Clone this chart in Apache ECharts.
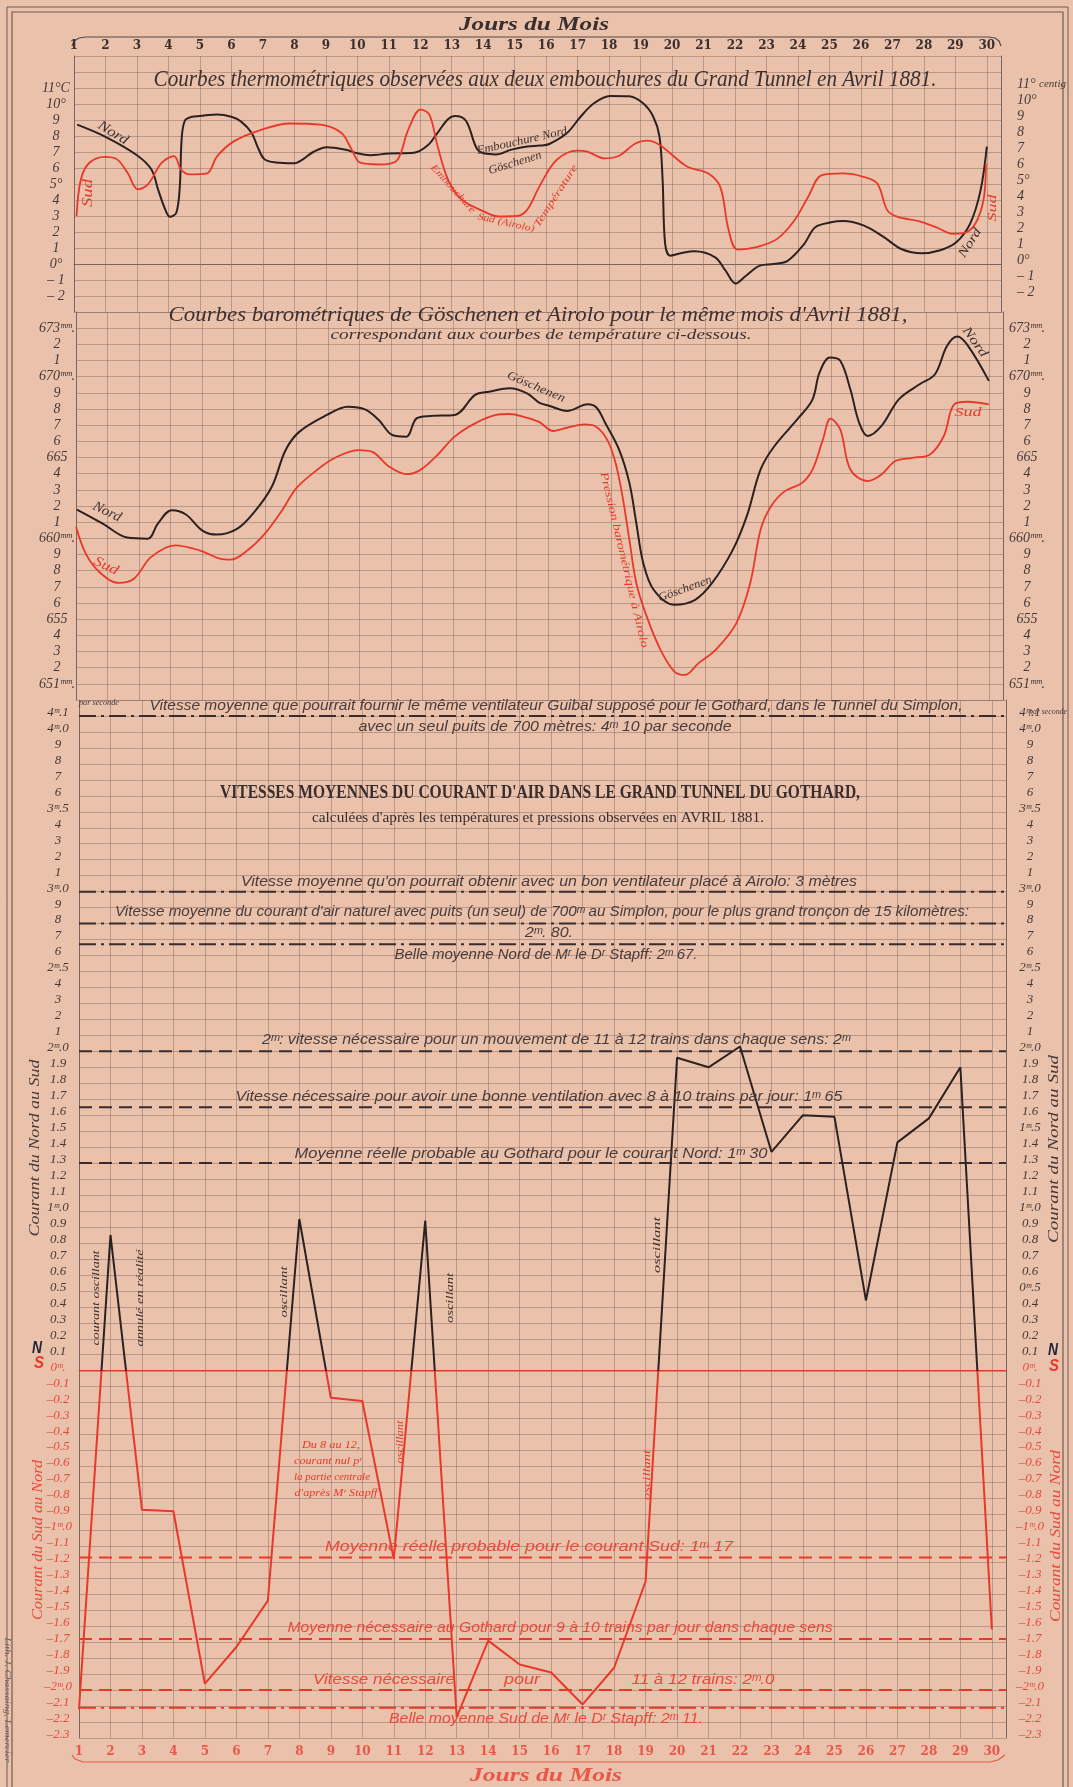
<!DOCTYPE html>
<html><head><meta charset="utf-8">
<script src="https://cdn.jsdelivr.net/npm/echarts/dist/echarts.min.js"></script>
<style>html,body{margin:0;padding:0;background:#eac2ab;}#c{width:1073px;height:1787px;}</style>
</head><body><div id="c"></div>
<script>
// ---------------- DATA ----------------
const days = [1,2,3,4,5,6,7,8,9,10,11,12,13,14,15,16,17,18,19,20,21,22,23,24,25,26,27,28,29,30];
const dayLabels = days.map(String);

// Température embouchure Nord (Göschenen), °C  [jour, valeur]
const tempNord = [[1.1,8.71],[2,7.95],[3,6.8],[3.46,5.9],[3.68,4.6],[3.9,3.4],[4.05,2.95],[4.25,3.2],[4.36,4.8],[4.42,7.8],[4.52,8.95],[4.75,9.2],[5.0,9.25],[5.55,9.35],[6.0,9.2],[6.31,8.9],[6.64,8.2],[6.86,7.2],[7.05,6.55],[7.4,6.35],[8.0,6.3],[8.28,6.55],[8.6,7.0],[9.03,7.3],[9.6,7.15],[10.04,6.9],[10.4,6.8],[11.0,6.9],[11.8,6.95],[12.23,7.4],[12.55,8.2],[12.88,9.05],[13.1,9.25],[13.45,8.95],[13.8,7.2],[14.05,6.9],[14.4,6.85],[14.9,7.15],[15.4,7.35],[15.8,7.4],[16.1,7.5],[16.66,8.18],[17.1,9.22],[17.53,10.06],[18.03,10.5],[18.63,10.48],[19.07,10.06],[19.4,9.22],[19.6,7.97],[19.7,5.24],[19.78,1.26],[19.94,0.52],[20.27,0.67],[20.71,0.8],[21.37,0.42],[21.7,-0.42],[22.02,-1.22],[22.35,-0.73],[22.79,-0.1],[23.23,0],[23.67,0.2],[24.2,1.26],[24.55,2.3],[25.09,2.62],[25.42,2.68],[26.08,2.41],[26.73,1.68],[27.28,0.94],[27.94,0.67],[28.49,0.84],[29.03,1.36],[29.47,2.52],[29.8,4.6],[30,7.34]];
// Température embouchure Sud (Airolo), °C
const tempSud = [[1.08,3.0],[1.22,5.3],[1.49,6.33],[1.99,6.7],[2.37,6.54],[2.7,5.7],[3.03,4.67],[3.35,4.98],[3.79,6.33],[4.18,6.74],[4.4,5.9],[4.67,5.6],[5.22,5.66],[5.55,6.74],[6.09,7.68],[6.97,8.4],[7.85,8.78],[8.83,8.71],[9.49,8.2],[9.82,7.16],[10.09,6.33],[10.69,6.22],[11.24,6.43],[11.62,8.4],[12.01,9.65],[12.29,9.34],[12.55,7.37],[12.88,5.29],[13.3,4.05],[13.98,3.32],[14.5,2.97],[15.07,3.0],[15.4,3.4],[15.8,4.9],[16.33,6.5],[16.99,7.09],[17.31,7.02],[17.86,6.6],[18.3,6.75],[18.85,7.55],[19.23,7.71],[19.61,7.44],[19.94,6.92],[20.49,6.08],[21.15,5.66],[21.53,4.82],[21.8,2.1],[22.08,0.9],[22.68,1.05],[23.34,1.57],[23.89,2.73],[24.32,4.19],[24.76,5.56],[25.42,5.66],[26.08,5.45],[26.52,5.03],[26.84,3.35],[27.17,2.94],[27.83,2.68],[28.38,2.31],[28.92,1.89],[29.36,1.99],[29.69,2.73],[29.91,4.19],[29.97,6.29]];
// Baromètre Göschenen (Nord), mm
const baroNord = [[1.03,661.78],[1.85,660.91],[2.62,660.05],[3.28,659.98],[3.6,660.91],[4.04,661.74],[4.48,661.49],[5.03,660.46],[5.47,660.23],[6.13,660.6],[6.67,661.64],[7.22,663.19],[7.66,665.46],[8.1,666.6],[8.97,667.63],[9.63,668.14],[10.18,667.98],[10.62,667.32],[11.05,666.39],[11.49,666.29],[11.82,667.42],[12.26,667.57],[13.03,667.63],[13.68,668.87],[14.12,669.07],[14.78,669.28],[15.33,668.97],[15.71,668.4],[16.05,668.19],[16.6,667.88],[17.26,668.29],[17.54,668.08],[17.81,667.15],[18.25,665.5],[18.58,663.43],[18.8,660.95],[19.02,658.48],[19.35,656.82],[20.01,655.89],[20.67,656.2],[21.21,657.24],[21.87,659.3],[22.31,661.37],[22.75,664.26],[23.19,665.71],[23.96,667.46],[24.4,668.6],[24.62,670.25],[24.95,671.18],[25.28,670.98],[25.6,669.22],[25.88,667.15],[26.15,666.33],[26.59,666.95],[27.14,668.6],[27.8,669.53],[28.29,670.15],[28.67,671.9],[29.0,672.48],[29.34,671.9],[30.0,669.74]];
// Baromètre Airolo (Sud), mm
const baroSud = [[1.0,660.71],[1.31,659.05],[1.74,657.92],[2.35,657.24],[2.84,657.5],[3.39,658.85],[4.15,659.57],[4.92,659.26],[5.58,658.74],[5.91,658.68],[6.45,659.26],[7.0,660.29],[7.55,661.74],[7.99,663.08],[8.65,664.22],[9.19,664.94],[9.96,665.46],[10.4,665.36],[10.95,664.43],[11.49,663.97],[11.93,664.22],[12.48,665.15],[13.03,666.29],[13.68,667.11],[14.34,667.63],[14.78,667.69],[15.22,667.52],[15.71,667.2],[16.16,666.64],[16.6,666.84],[17.15,667.05],[17.48,666.95],[17.87,666.12],[18.14,664.67],[18.36,662.61],[18.58,659.92],[18.8,657.24],[19.13,655.17],[19.57,653.1],[20.01,651.76],[20.34,651.55],[20.78,652.28],[21.32,653.1],[21.98,654.76],[22.42,657.24],[22.75,660.54],[23.08,661.99],[23.52,662.92],[24.07,663.43],[24.4,664.26],[24.73,666.12],[24.97,667.4],[25.28,666.74],[25.6,664.26],[26.15,663.54],[26.59,663.95],[27.03,664.78],[27.58,664.98],[28.13,665.19],[28.57,666.33],[28.9,668.29],[29.34,668.45],[30.0,668.29]];
// Vitesse moyenne journalière du courant d'air (m/s ; + Nord→Sud, − Sud→Nord)
const vitesse = [-2.12,0.85,-0.87,-0.88,-1.96,-1.73,-1.44,0.95,-0.17,-0.19,-1.18,0.94,-2.17,-1.69,-1.84,-1.89,-2.09,-1.86,-1.32,1.96,1.90,2.03,1.37,1.60,1.59,0.44,1.43,1.58,1.90,-1.62];

// Lignes de référence (m/s)
const refValues = [4.1, 3.0, 2.8, 2.67, 2.0, 1.65, 1.30, 0, -1.17, -1.68, -2.0, -2.11];
const refKinds  = ['dashdot','dashdot','dashdot','dashdot','dash','dash','dash','solid','dash','dash','dash','dashdot'];

// Tick labels
const tempLabelsLeft  = ['', '', '11°C', '10°', '9', '8', '7', '6', '5°', '4', '3', '2', '1', '0°', '– 1', '– 2', ''];   // 13 → -3
const tempLabelsRight = ['', '', '{a|11°} {b|centig}', '10°', '9', '8', '7', '6', '5°', '4', '3', '2', '1', '0°', '– 1', '– 2', ''];
const baroLabels = ['', '673ᵐᵐ.', '2', '1', '670ᵐᵐ.', '9', '8', '7', '6', '665', '4', '3', '2', '1', '660ᵐᵐ.', '9', '8', '7', '6', '655', '4', '3', '2', '651ᵐᵐ.', ''];   // 674 → 650
const velLabelsLeft = ['', '4ᵐ.1', '4ᵐ.0', '9', '8', '7', '6', '3ᵐ.5', '4', '3', '2', '1', '3ᵐ.0', '9', '8', '7', '6', '2ᵐ.5', '4', '3', '2', '1', '2ᵐ.0',
  '1.9', '1.8', '1.7', '1.6', '1.5', '1.4', '1.3', '1.2', '1.1', '1ᵐ.0', '0.9', '0.8', '0.7', '0.6', '0.5', '0.4', '0.3', '0.2', '0.1', '0ᵐ.',
  '–0.1', '–0.2', '–0.3', '–0.4', '–0.5', '–0.6', '–0.7', '–0.8', '–0.9', '–1ᵐ.0', '–1.1', '–1.2', '–1.3', '–1.4', '–1.5', '–1.6', '–1.7', '–1.8', '–1.9', '–2ᵐ.0', '–2.1', '–2.2', '–2.3'];  // 4.2 → -2.3
const velLabelsRight = velLabelsLeft.map((s, i) => i === 27 ? '1ᵐ.5' : (i === 37 ? '0ᵐ.5' : s));

// ---------------- STYLE ----------------
const INK = '#473838', BLACK = '#2b2121', RED = '#e8382a', RED_T = '#e8493c', GRIDC = 'rgba(118,92,86,0.42)', AXC = '#7a6560';
const SERIF = '"Liberation Serif", "DejaVu Serif", serif';
const SANS = '"Liberation Sans", "DejaVu Sans", sans-serif';
const XMAX = 30.45;

function xAxisCfg(grid, pos, showLabel, color) {
  return {
    type: 'value', gridIndex: grid, min: 1, max: XMAX, interval: 1, position: pos,
    axisLine: { show: showLabel, lineStyle: { color: AXC, width: 1 } },
    axisTick: { show: false },
    splitLine: { show: true, lineStyle: { color: GRIDC, width: 1 } },
    axisLabel: {
      show: showLabel, margin: pos === 'top' ? 4 : 8,
      fontFamily: '"DejaVu Serif", serif', fontWeight: 'bold', fontSize: 12, color: color,
      formatter: v => Number.isInteger(v) ? dayLabels[v - 1] : ''
    }
  };
}
function yAxisCfg(grid, pos, min, max, interval, fmt, margin, align, size, rich) {
  return {
    type: 'value', gridIndex: grid, min, max, interval, position: pos,
    axisLine: { show: true, lineStyle: { color: AXC, width: 1 } },
    axisTick: { show: false },
    splitLine: { show: pos === 'left', lineStyle: { color: GRIDC, width: 1 } },
    axisLabel: { show: true, formatter: fmt, margin, align, fontFamily: SERIF, fontStyle: 'italic', fontSize: size, color: INK,
      padding: [0, 0, 7, 0], rich: rich, showMinLabel: true, showMaxLabel: true, hideOverlap: false }
  };
}
const lblStyle = (c, s) => ({ color: c, fontFamily: SERIF, fontStyle: 'italic', fontSize: s });
const velRich = { k: lblStyle(INK, 13), r: lblStyle(RED_T, 13) };
const tempRich = { a: lblStyle(INK, 14), b: lblStyle(INK, 11) };
function velFmt(arr) {
  return v => { const i = Math.round((4.2 - v) * 10); const s = arr[i] || ''; if (!s) return ''; return (i >= 42 ? '{r|' : '{k|') + s + '}'; };
}

const dashStyle = { dashdot: [17, 5, 3, 5], dash: [13, 7], solid: 'solid' };
const refSeries = refValues.map((v, i) => ({
  type: 'line', xAxisIndex: 2, yAxisIndex: 4, silent: true, symbol: 'none', z: 3,
  data: [[1, v], [XMAX, v]],
  lineStyle: { color: v > 0 ? '#3a2c2c' : RED, width: v === 0 ? 1.6 : 2, type: dashStyle[refKinds[i]] }
}));

const option = {
  backgroundColor: '#eac2ab',
  animation: false,
  grid: [
    { left: 74, top: 56, width: 927, height: 256 },
    { left: 76, top: 312, width: 927, height: 388 },
    { left: 79, top: 700, width: 927, height: 1038 }
  ],
  xAxis: [xAxisCfg(0, 'top', true, '#3b2e2e'), xAxisCfg(1, 'bottom', false, INK), xAxisCfg(2, 'bottom', true, '#e8574a')],
  yAxis: [
    yAxisCfg(0, 'left', -3, 13, 1, v => tempLabelsLeft[Math.round(13 - v)] || '', 18, 'center', 14),
    yAxisCfg(0, 'right', -3, 13, 1, v => tempLabelsRight[Math.round(13 - v)] || '', 16, 'left', 14, tempRich),
    yAxisCfg(1, 'left', 650, 674, 1, v => baroLabels[Math.round(674 - v)] || '', 19, 'center', 14),
    yAxisCfg(1, 'right', 650, 674, 1, v => baroLabels[Math.round(674 - v)] || '', 24, 'center', 14),
    yAxisCfg(2, 'left', -2.3, 4.2, 0.1, velFmt(velLabelsLeft), 21, 'center', 13, velRich),
    yAxisCfg(2, 'right', -2.3, 4.2, 0.1, velFmt(velLabelsRight), 24, 'center', 13, velRich)
  ],
  series: [
    { name: 'Embouchure Nord (Göschenen)', type: 'line', xAxisIndex: 0, yAxisIndex: 0, data: tempNord, smooth: 0.35, symbol: 'none', lineStyle: { color: BLACK, width: 2 }, z: 5 },
    { name: 'Embouchure Sud (Airolo)', type: 'line', xAxisIndex: 0, yAxisIndex: 0, data: tempSud, smooth: 0.35, symbol: 'none', lineStyle: { color: RED, width: 1.8 }, z: 5 },
    { name: 'Göschenen', type: 'line', xAxisIndex: 1, yAxisIndex: 2, data: baroNord, smooth: 0.35, symbol: 'none', lineStyle: { color: BLACK, width: 2 }, z: 5 },
    { name: 'Airolo', type: 'line', xAxisIndex: 1, yAxisIndex: 2, data: baroSud, smooth: 0.35, symbol: 'none', lineStyle: { color: RED, width: 1.8 }, z: 5 },
    { name: 'Vitesse', type: 'line', xAxisIndex: 2, yAxisIndex: 4, data: days.map((d, i) => [d, vitesse[i]]), symbol: 'none', lineStyle: { color: BLACK, width: 2 }, z: 6 }
  ].concat(refSeries)
};

const chart = echarts.init(document.getElementById('c'), null, { renderer: 'canvas' });
chart.setOption(option);

// colour the velocity line black above 0 (Nord→Sud) and red below (Sud→Nord), split at the axis' own 0
const yTop = chart.convertToPixel({ yAxisIndex: 4 }, 4.2);
const yBot = chart.convertToPixel({ yAxisIndex: 4 }, -2.3);
const yZero = chart.convertToPixel({ yAxisIndex: 4 }, 0);
const f = (yZero - yTop) / (yBot - yTop);
const velGrad = new echarts.graphic.LinearGradient(0, yTop, 0, yBot,
  [{ offset: 0, color: BLACK }, { offset: f, color: BLACK }, { offset: f, color: RED }, { offset: 1, color: RED }], true);

// ---------------- TEXTS ----------------
const mctx = document.createElement('canvas').getContext('2d');
function T(cx, cy, text, o) {
  o = o || {};
  const size = o.size || 13, fam = o.fam || SERIF, st = o.style || 'italic', wt = o.weight || 'normal';
  const font = st + ' ' + wt + ' ' + size + 'px ' + fam;
  let sx = 1;
  if (o.w) { mctx.font = font; const mw = mctx.measureText(text).width; if (mw > 0) sx = o.w / mw; }
  return { type: 'text', x: cx, y: cy, rotation: o.rot || 0, scaleX: sx, silent: true, z: 100,
    style: { text: text, x: 0, y: 0, align: 'center', verticalAlign: 'middle', textAlign: 'center', textVerticalAlign: 'middle', font: font, fill: o.color || INK } };
}
const P2 = Math.PI / 2;
const g = [];
// frame
g.push({ type: 'rect', silent: true, shape: { x: 7, y: 7, width: 1061, height: 1800 }, style: { fill: null, stroke: '#6e5a55', lineWidth: 1 } });
g.push({ type: 'rect', silent: true, shape: { x: 12, y: 12, width: 1051, height: 1800 }, style: { fill: null, stroke: '#6e5a55', lineWidth: 1.2 } });
// brackets
g.push({ type: 'polyline', silent: true, shape: { points: [[72, 46], [74, 41], [79, 38], [86, 37], [988, 37], [995, 38], [999, 41], [1001, 46]] }, style: { fill: null, stroke: '#5a4845', lineWidth: 1.2 } });
g.push({ type: 'polyline', silent: true, shape: { points: [[72, 1755], [75, 1759], [83, 1762], [990, 1762], [998, 1760], [1005, 1755]] }, style: { fill: null, stroke: '#e8574a', lineWidth: 1.2 } });
g.push(T(534, 25, 'Jours du Mois', { size: 19, weight: 'bold', w: 150, color: '#3b2e2e' }));
g.push(T(546, 1776, 'Jours du Mois', { size: 19, weight: 'bold', w: 152, color: '#e8574a' }));

// Temperature section
g.push(T(545, 80, 'Courbes thermométriques observées aux deux embouchures du Grand Tunnel en Avril 1881.', { size: 23, w: 783, color: '#3d3030' }));
g.push(T(113, 133, 'Nord', { size: 14, rot: -0.55, w: 33, color: '#3d3030' }));
g.push(T(88, 193, 'Sud', { size: 14, rot: P2, w: 28, color: RED }));
g.push(T(522, 141, 'Embouchure Nord', { size: 12, rot: 0.22, w: 92, color: '#3d3030' }));
g.push(T(515, 163, 'Göschenen', { size: 12, rot: 0.3, w: 55, color: '#3d3030' }));
g.push(T(453, 189, 'Embouchure', { size: 10, rot: -0.84, w: 62, color: RED }));
g.push(T(506, 223, 'Sud (Airolo)', { size: 10, rot: -0.22, w: 58, color: RED }));
g.push(T(556, 196, 'Température', { size: 10, rot: 1.0, w: 72, color: RED }));
g.push(T(970, 243, 'Nord', { size: 13, rot: 1.0, w: 32, color: '#3d3030' }));
g.push(T(993, 208, 'Sud', { size: 13, rot: P2, w: 27, color: RED }));

// Barometric section
g.push(T(538, 315, 'Courbes barométriques de Göschenen et Airolo pour le même mois d\'Avril 1881,', { size: 21, w: 739, color: '#3d3030' }));
g.push(T(541, 335, 'correspondant aux courbes de température ci-dessous.', { size: 15, w: 421, color: '#3d3030' }));
g.push(T(107, 512, 'Nord', { size: 14, rot: -0.45, w: 30, color: '#3d3030' }));
g.push(T(106, 566, 'Sud', { size: 14, rot: -0.45, w: 26, color: RED }));
g.push(T(536, 387, 'Göschenen', { size: 12, rot: -0.4, w: 62, color: '#3d3030' }));
g.push(T(685, 589, 'Göschenen', { size: 12, rot: 0.35, w: 56, color: '#3d3030' }));
g.push(T(624, 560, 'Pression barométrique à Airolo', { size: 11, rot: -1.34, w: 180, color: RED }));
g.push(T(975, 342, 'Nord', { size: 13, rot: -0.95, w: 34, color: '#3d3030' }));
g.push(T(968, 413, 'Sud', { size: 13, w: 27, color: RED }));

// Velocity section titles
g.push(T(540, 793, 'VITESSES MOYENNES DU COURANT D\'AIR DANS LE GRAND TUNNEL DU GOTHARD,', { size: 19, style: 'normal', weight: 'bold', w: 640, color: '#3a2d2d' }));
g.push(T(538, 818, 'calculées d\'après les températures et pressions observées en AVRIL 1881.', { size: 14, style: 'normal', w: 452, color: '#3a2d2d' }));
g.push(T(99, 703, 'par seconde', { size: 8, w: 40, color: INK }));
g.push(T(1048, 712, 'par seconde', { size: 8, w: 38, color: INK }));
g.push(T(35, 1148, 'Courant du Nord au Sud', { size: 15, rot: P2, w: 177, color: INK }));
g.push(T(1054, 1149, 'Courant du Nord au Sud', { size: 15, rot: P2, w: 188, color: INK }));
g.push(T(38, 1540, 'Courant du Sud au Nord', { size: 15, rot: P2, w: 160, color: RED_T }));
g.push(T(1056, 1536, 'Courant du Sud au Nord', { size: 15, rot: P2, w: 172, color: RED_T }));
g.push(T(37, 1349, 'N', { size: 16, fam: SANS, weight: 'bold', w: 10, color: '#24243a' }));
g.push(T(39, 1364, 'S', { size: 16, fam: SANS, weight: 'bold', w: 10, color: RED }));
g.push(T(1053, 1351, 'N', { size: 16, fam: SANS, weight: 'bold', w: 10, color: '#24243a' }));
g.push(T(1054, 1367, 'S', { size: 16, fam: SANS, weight: 'bold', w: 10, color: RED }));
g.push(T(96, 1298, 'courant oscillant', { size: 11, rot: P2, w: 95, color: '#3d3030' }));
g.push(T(140, 1298, 'annulé en réalité', { size: 11, rot: P2, w: 97, color: '#3d3030' }));
g.push(T(284, 1292, 'oscillant', { size: 11, rot: P2, w: 51, color: '#3d3030' }));
g.push(T(450, 1298, 'oscillant', { size: 11, rot: P2, w: 50, color: '#3d3030' }));
g.push(T(657, 1245, 'oscillant', { size: 11, rot: P2, w: 56, color: '#3d3030' }));
g.push(T(400, 1442, 'oscillant', { size: 10, rot: P2, w: 43, color: RED }));
g.push(T(647, 1475, 'oscillant', { size: 10, rot: P2, w: 50, color: RED }));
g.push(T(331, 1445, 'Du 8 au 12,', { size: 10, w: 58, color: RED }));
g.push(T(328, 1461, 'courant nul pʳ', { size: 10, w: 68, color: RED }));
g.push(T(332, 1477, 'la partie centrale', { size: 10, w: 76, color: RED }));
g.push(T(336, 1493, 'd\'après Mʳ Stapff', { size: 10, w: 83, color: RED }));
g.push(T(7, 1700, 'Lith. J. Chassaing, Lemercier', { size: 9, rot: -P2, w: 125, color: '#6b5e5a' }));

// Reference line captions, placed from the velocity axis scale
const refCaptions = [
  [4.1, -10, 556, 813, 'Vitesse moyenne que pourrait fournir le même ventilateur Guibal supposé pour le Gothard, dans le Tunnel du Simplon,'],
  [4.1, 11, 545, 373, 'avec un seul puits de 700 mètres: 4ᵐ 10 par seconde'],
  [3.0, -10, 549, 616, 'Vitesse moyenne qu\'on pourrait obtenir avec un bon ventilateur placé à Airolo: 3 mètres'],
  [2.8, -11, 542, 854, 'Vitesse moyenne du courant d\'air naturel avec puits (un seul) de 700ᵐ au Simplon, pour le plus grand tronçon de 15 kilomètres:'],
  [2.8, 10, 549, 48, '2ᵐ. 80.'],
  [2.67, 11, 546, 303, 'Belle moyenne Nord de Mʳ le Dʳ Stapff: 2ᵐ 67.'],
  [2.0, -11, 556, 588, '2ᵐ: vitesse nécessaire pour un mouvement de 11 à 12 trains dans chaque sens: 2ᵐ'],
  [1.65, -10, 539, 607, 'Vitesse nécessaire pour avoir une bonne ventilation avec 8 à 10 trains par jour: 1ᵐ 65'],
  [1.30, -9, 531, 473, 'Moyenne réelle probable au Gothard pour le courant Nord: 1ᵐ 30'],
  [-1.17, -10, 529, 408, 'Moyenne réelle probable pour le courant Sud: 1ᵐ 17'],
  [-1.68, -11, 560, 545, 'Moyenne nécessaire au Gothard pour 9 à 10 trains par jour dans chaque sens'],
  [-2.0, -10, 384, 142, 'Vitesse nécessaire'],
  [-2.0, -10, 522, 36, 'pour'],
  [-2.0, -10, 703, 143, '11 à 12 trains: 2ᵐ.0'],
  [-2.11, 11, 546, 314, 'Belle moyenne Sud de Mʳ le Dʳ Stapff: 2ᵐ 11.']
];
refCaptions.forEach(c => {
  const y = chart.convertToPixel({ yAxisIndex: 4 }, c[0]);
  g.push(T(c[2], y + c[1], c[4], { size: 14, fam: SANS, w: c[3], color: c[0] > 0 ? '#4a3b3b' : RED_T }));
});

chart.setOption({ series: [{}, {}, {}, {}, { lineStyle: { color: velGrad } }], graphic: { elements: g } });
</script>
</body></html>
